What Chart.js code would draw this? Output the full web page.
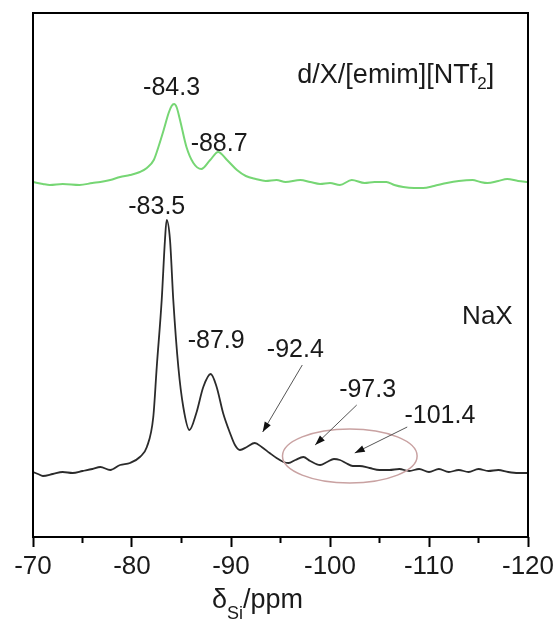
<!DOCTYPE html>
<html>
<head>
<meta charset="utf-8">
<script src="https://cdn.jsdelivr.net/npm/chart.js@4.4.0/dist/chart.umd.min.js"></script>
<style>
  html, body { margin: 0; padding: 0; background: #fff; }
  #wrap { width: 560px; height: 643px; }
</style>
</head>
<body>
<div id="wrap"><canvas id="nmrChart"></canvas></div>
<script>
// 29Si MAS NMR spectra: chemical shift (ppm) vs intensity (a.u., stacked)
const naxShift = [-70, -70.5, -71, -72, -73, -74, -75, -76, -76.8, -77.8, -78.8, -79.8, -80.8, -81.5, -82.15, -82.5,
    -83.0, -83.33, -83.5, -83.84, -84.17, -84.68, -85.18, -85.8, -86.5, -87.2, -87.95, -88.55, -89.2, -89.9, -90.4,
    -90.9, -91.6, -92.4, -93.1, -93.9, -94.6, -95.3, -95.8, -96.5, -97.3, -98.0, -99.0, -99.7, -100.4, -101.0, -101.6,
    -102.3, -103, -104, -105, -106, -107, -108, -109, -110, -111, -112, -113, -114, -115, -116, -117, -118, -119, -120];
const naxIntensity = [65, 63, 61, 63, 65, 64, 66, 68, 70, 67, 72, 74, 80, 90, 120, 170,
    237, 297, 317, 297, 237, 170, 130, 107, 124, 150, 163, 150, 124, 104, 92,
    87, 90, 94, 90, 84, 79, 75, 74, 77, 80, 76, 72, 75, 78, 77, 74,
    71, 71, 69, 67, 67, 68, 66, 68, 65, 68, 65, 67, 65, 68, 66, 67, 65, 64, 64];

const dxShift = [-70, -71, -71.7, -73, -74.7, -76, -76.8, -77.8, -78.8, -79.8, -80.8, -81.5, -82.2, -82.7, -83.2,
    -83.7, -84.0, -84.25, -84.5, -84.85, -85.5, -86.2, -87.0, -87.9, -88.7, -89.6, -90.6, -91.5, -92.5, -93.5, -94.6,
    -95.5, -97, -98, -99, -100, -101, -102.2, -103.5, -104.5, -105.7, -106.5, -107.4, -108.5, -109.4, -110.5,
    -111.8, -113, -114.4, -115.2, -115.9, -117, -117.9, -119, -120];
const dxIntensity = [355, 353, 352, 353, 352, 354, 355, 357, 360, 362, 365, 369, 377, 391, 407,
    424, 431, 433, 430, 417, 390, 374, 368, 377, 385, 377, 367, 361, 358, 356, 357,
    355, 357, 355, 353, 354, 352, 357, 354, 355, 355, 352, 350, 349, 349, 351,
    354, 356, 357, 355, 354, 356, 358, 356, 355];

const xTicks = [-70, -80, -90, -100, -110, -120];
const minorTicks = [-75, -85, -95, -105, -115];

const peakTexts = ['-84.3', '-88.7', '-83.5', '-87.9', '-92.4', '-97.3', '-101.4'];
const seriesNames = ['NaX', 'd/X/[emim][NTf', '2', ']'];

// label anchors in data units (shift, intensity)
const peakTextPos = [[-84.0, 449], [-88.8, 393], [-82.5, 330], [-88.5, 196], [-96.5, 187], [-103.8, 147], [-111.1, 121]];
const arrowPos = [
    [[-97.2, 172], [-93.2, 105]],
    [[-102.7, 132], [-98.5, 92]],
    [[-107.8, 110], [-102.5, 84]]
];

const FONT = '"Liberation Sans", Arial, sans-serif';

const decorPlugin = {
    id: 'decor',
    afterDatasetsDraw(chart) {
        const { ctx, chartArea: a, scales: { x, y } } = chart;
        ctx.save();

        // highlight ellipse round the weak peaks
        const cx = x.getPixelForValue(-102.0);
        const cy = y.getPixelForValue(81);
        const rx = Math.abs(x.getPixelForValue(-108.8) - cx);
        const ry = Math.abs(y.getPixelForValue(108) - cy);
        ctx.beginPath();
        ctx.ellipse(cx, cy, rx, ry, 0, 0, Math.PI * 2);
        ctx.strokeStyle = '#c9a2a2';
        ctx.lineWidth = 1.5;
        ctx.stroke();

        // arrows
        arrowPos.forEach(([from, to]) => {
            const x1 = x.getPixelForValue(from[0]), y1 = y.getPixelForValue(from[1]);
            const x2 = x.getPixelForValue(to[0]), y2 = y.getPixelForValue(to[1]);
            ctx.beginPath();
            ctx.moveTo(x1, y1);
            ctx.lineTo(x2, y2);
            ctx.strokeStyle = '#555';
            ctx.lineWidth = 1;
            ctx.stroke();
            const ang = Math.atan2(y2 - y1, x2 - x1);
            const len = 10, half = 3.5;
            ctx.beginPath();
            ctx.moveTo(x2, y2);
            ctx.lineTo(x2 - len * Math.cos(ang) + half * Math.sin(ang), y2 - len * Math.sin(ang) - half * Math.cos(ang));
            ctx.lineTo(x2 - len * Math.cos(ang) - half * Math.sin(ang), y2 - len * Math.sin(ang) + half * Math.cos(ang));
            ctx.closePath();
            ctx.fillStyle = '#111';
            ctx.fill();
        });

        // peak labels
        ctx.fillStyle = '#1a1a1a';
        ctx.font = '25px ' + FONT;
        ctx.textAlign = 'center';
        ctx.textBaseline = 'middle';
        peakTexts.forEach((t, i) => {
            ctx.fillText(t, x.getPixelForValue(peakTextPos[i][0]), y.getPixelForValue(peakTextPos[i][1]));
        });

        // sample names
        ctx.font = '26px ' + FONT;
        ctx.fillText(seriesNames[0], x.getPixelForValue(-115.9), y.getPixelForValue(220));
        ctx.textAlign = 'left';
        ctx.textBaseline = 'alphabetic';
        let tx = x.getPixelForValue(-96.7);
        const ty = y.getPixelForValue(454);
        ctx.font = '27px ' + FONT;
        ctx.fillText(seriesNames[1], tx, ty);
        tx += ctx.measureText(seriesNames[1]).width;
        ctx.font = '17px ' + FONT;
        ctx.fillText(seriesNames[2], tx, ty + 6);
        tx += ctx.measureText(seriesNames[2]).width;
        ctx.font = '27px ' + FONT;
        ctx.fillText(seriesNames[3], tx, ty);

        // frame
        ctx.strokeStyle = '#000';
        ctx.lineWidth = 2;
        ctx.strokeRect(a.left, a.top, a.right - a.left, a.bottom - a.top);

        // minor ticks
        minorTicks.forEach(v => {
            const px = x.getPixelForValue(v);
            ctx.beginPath();
            ctx.moveTo(px, a.bottom);
            ctx.lineTo(px, a.bottom + 6);
            ctx.stroke();
        });

        // axis title: delta_Si / ppm
        ctx.fillStyle = '#1a1a1a';
        let ax = 212;
        const ay = 608;
        ctx.font = '27px ' + FONT;
        ctx.fillText('δ', ax, ay);
        ax += ctx.measureText('δ').width;
        ctx.font = '18px ' + FONT;
        ctx.fillText('Si', ax, ay + 11);
        ax += ctx.measureText('Si').width;
        ctx.font = '27px ' + FONT;
        ctx.fillText('/ppm', ax, ay);

        ctx.restore();
    }
};

const toPoints = (xs, ys) => xs.map((v, i) => ({ x: v, y: ys[i] }));

const config = {
    type: 'line',
    data: {
        datasets: [{
            label: 'NaX',
            data: toPoints(naxShift, naxIntensity),
            borderColor: '#2b2b2b',
            borderWidth: 1.8,
            pointRadius: 0,
            cubicInterpolationMode: 'monotone'
        }, {
            label: 'd/X/[emim][NTf2]',
            data: toPoints(dxShift, dxIntensity),
            borderColor: '#76d674',
            borderWidth: 2,
            pointRadius: 0,
            cubicInterpolationMode: 'monotone'
        }]
    },
    options: {
        responsive: true,
        maintainAspectRatio: false,
        animation: false,
        layout: { padding: { left: 33, right: 32, top: 13, bottom: 0 } },
        plugins: {
            legend: { display: false },
            tooltip: { enabled: false }
        },
        scales: {
            x: {
                type: 'linear',
                reverse: true,
                min: -120,
                max: -70,
                afterBuildTicks: (scale) => {
                    scale.ticks = xTicks.map(v => ({ value: v }));
                },
                afterFit: (scale) => { scale.height = 106; },
                ticks: {
                    maxRotation: 0,
                    autoSkip: false,
                    padding: 4,
                    color: '#1a1a1a',
                    font: { family: FONT, size: 26 }
                },
                grid: {
                    drawOnChartArea: false,
                    drawTicks: true,
                    tickLength: 10,
                    tickWidth: 2,
                    tickColor: '#000'
                },
                border: { display: false }
            },
            y: {
                display: false,
                min: 0,
                max: 524
            }
        }
    },
    plugins: [decorPlugin]
};

new Chart(document.getElementById('nmrChart'), config);
</script>
</body>
</html>
